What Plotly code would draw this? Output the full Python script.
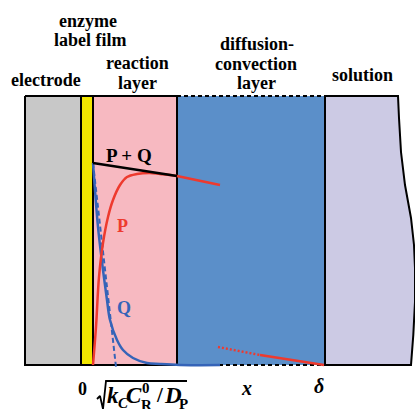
import plotly.graph_objects as go

# ---- data (diagram coordinates: x distance, y = screen-like vertical units, top=96 bottom=365) ----
layer_names = ["electrode", "enzyme label film", "reaction layer", "diffusion-convection layer", "solution"]
layer_left = [25, 81, 93, 177, 325]
layer_right = [81, 93, 177, 325, 398]
layer_colors = ["#c8c8c8", "#f2e600", "#f7b9c1", "#5b8fc9", "#cccae4"]
y_top = 96
y_bottom = 365

# wavy right edge of the solution block
sol_edge_x = [398, 399, 401, 405, 411, 414, 415, 415, 413.3, 411]
sol_edge_y = [96, 118, 152, 185, 218, 245, 268, 302, 335, 365]

# concentration profiles
pq_x = [93, 177]
pq_y = [163, 176]
pq_ext_x = [177, 220]
pq_ext_y = [176, 185]

p_x = [93, 96, 99, 103, 108, 113, 120, 127, 137, 150, 160, 170, 177]
p_y = [365, 327, 277, 243, 217, 200, 185, 177, 174, 173, 174, 175, 176]

q_x = [93, 98, 102, 107, 110, 117, 123, 133, 147, 160, 180, 220]
q_y = [163, 227, 262, 300, 320, 340, 350, 358, 363, 364, 365, 365]

q_tan_x = [93, 116]
q_tan_y = [163, 367]

p_diff_dot_x = [218, 260]
p_diff_dot_y = [347, 355]
p_diff_x = [260, 324]
p_diff_y = [355, 365]

RED = "#ee3a2e"
BLUE = "#3564b8"

fig = go.Figure()

def add_line(xs, ys, color="black", width=2, dash="solid", shape="linear"):
    fig.add_trace(go.Scatter(x=xs, y=ys, mode="lines", hoverinfo="skip",
                             line=dict(color=color, width=width, dash=dash, shape=shape),
                             showlegend=False, cliponaxis=False))

# layer fills
for i, name in enumerate(layer_names):
    l, r = layer_left[i], layer_right[i]
    if name == "solution":
        xs = [l] + sol_edge_x + [l, l]
        ys = [y_top] + sol_edge_y + [y_bottom, y_top]
    else:
        xs = [l, r, r, l, l]
        ys = [y_top, y_top, y_bottom, y_bottom, y_top]
    fig.add_trace(go.Scatter(x=xs, y=ys, mode="lines", fill="toself", fillcolor=layer_colors[i],
                             line=dict(color=layer_colors[i], width=0), hoverinfo="skip",
                             showlegend=False, name=name))

# borders
for i, name in enumerate(layer_names):
    l, r = layer_left[i], layer_right[i]
    if name == "diffusion-convection layer":
        add_line([l, r], [y_top, y_top], dash="4px,3px")
        add_line([l, r], [y_bottom, y_bottom], dash="4px,3px")
        add_line([l, l], [y_top, y_bottom])
        add_line([r, r], [y_top, y_bottom])
    elif name == "solution":
        add_line([l] + sol_edge_x + [l], [y_top] + sol_edge_y + [y_bottom])
    else:
        add_line([l, r, r, l, l], [y_top, y_top, y_bottom, y_bottom, y_top])

# profiles
add_line(q_tan_x, q_tan_y, color=BLUE, width=2, dash="5px,3px")
add_line(q_x, q_y, color=BLUE, width=2.5, shape="spline")
add_line(pq_ext_x, pq_ext_y, color=RED, width=2.5)
add_line(p_x, p_y, color=RED, width=2.5, shape="spline")
add_line(pq_x, pq_y, color="black", width=2.5)
add_line(p_diff_dot_x, p_diff_dot_y, color=RED, width=2.5, dash="2px,2px")
add_line(p_diff_x, p_diff_y, color=RED, width=2.5)

# square-root sign
sqrt_x = [97, 100, 103, 106, 187]
sqrt_y = [399, 396, 409, 381, 381]
add_line(sqrt_x, sqrt_y, color="black", width=1.8)

FONT = "Liberation Serif"
def label(text, x, y, size=18, color="black", xanchor="center"):
    fig.add_annotation(x=x, y=y, text=text, showarrow=False, xanchor=xanchor, yanchor="middle",
                       font=dict(family=FONT, size=size, color=color), borderpad=0)

label("<b>enzyme</b>", 88, 21)
label("<b>label film</b>", 90, 40)
label("<b>reaction</b>", 137, 63)
label("<b>layer</b>", 137, 83)
label("<b>diffusion-</b>", 257, 44)
label("<b>convection</b>", 256, 64)
label("<b>layer</b>", 256, 83)
label("<b>electrode</b>", 46, 80)
label("<b>solution</b>", 362, 75)

label("<b>P + Q</b>", 129, 155, size=19)
label("<b>P</b>", 122, 226, size=18, color=RED)
label("<b>Q</b>", 124, 308, size=18, color=BLUE)

label("<b>0</b>", 82, 389)
label("<b><i>x</i></b>", 246, 388, size=20)
label("<b><i>δ</i></b>", 319, 386, size=20)

# sqrt(k_C C_R^0 / D_P), with stacked super/subscript on C
label("<b><i>k</i></b>", 106, 395, size=23, xanchor="left")
label("<b><i>C</i></b>", 117, 403, size=15, xanchor="left")
label("<b><i>C</i></b>", 125, 395, size=23, xanchor="left")
label("<b>0</b>", 141, 388, size=15, xanchor="left")
label("<b>R</b>", 140, 405, size=15, xanchor="left")
label("<b>/</b>", 155, 395, size=21, xanchor="left")
label("<b><i>D</i></b>", 163, 395, size=23, xanchor="left")
label("<b>P</b>", 178, 404, size=15, xanchor="left")

fig.update_layout(
    width=415, height=409,
    margin=dict(l=0, r=0, t=0, b=0),
    paper_bgcolor="white", plot_bgcolor="white",
    xaxis=dict(range=[0, 415], visible=False, fixedrange=True),
    yaxis=dict(range=[409, 0], visible=False, fixedrange=True),
    showlegend=False,
)

# remove the default 8px page margin so the 415x409 figure fills the window exactly
fig.write_html("out.html",
               config={"displayModeBar": False, "staticPlot": True},
               post_script="document.body.style.margin='0';document.body.style.overflow='hidden';")
